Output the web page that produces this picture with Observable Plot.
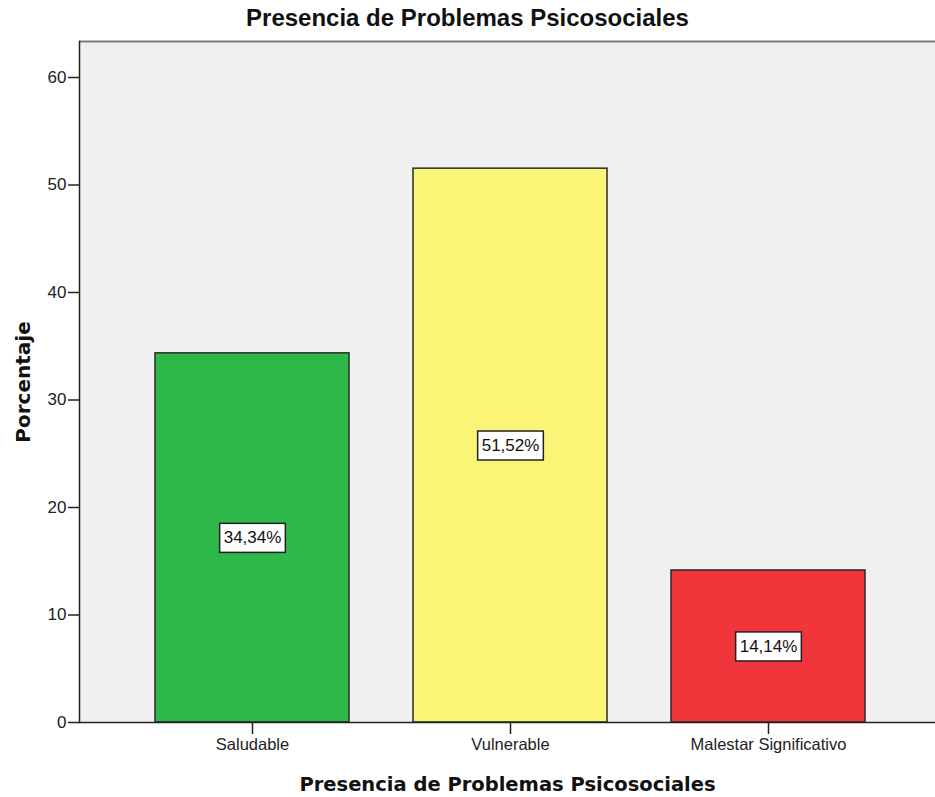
<!DOCTYPE html>
<html><head><meta charset="utf-8">
<script src="https://cdn.jsdelivr.net/npm/d3@7"></script>
<script src="https://cdn.jsdelivr.net/npm/@observablehq/plot@0.6"></script>
<style>
body{margin:0;background:#fff;}
#title{width:935px;height:40px;box-sizing:border-box;padding-top:4px;line-height:36px;text-align:center;font:bold 24px "Liberation Sans",Arial,sans-serif;color:#111;}
#chart svg{display:block;}
</style></head><body>
<div id="title"></div>
<div id="chart"></div>
<script>
const titleText = "Presencia de Problemas Psicosociales";
const xLabel = "Presencia de Problemas Psicosociales";
const yLabel = "Porcentaje";
const categories = ["Saludable", "Vulnerable", "Malestar Significativo"];
const values = [34.34, 51.52, 14.14];
const colors = ["#2fb84a", "#faf577", "#f0353b"];
const yTicks = [0, 10, 20, 30, 40, 50, 60];
const yMax = 63.35;

document.getElementById("title").textContent = titleText;

const data = categories.map((c, i) => ({
  category: c,
  value: values[i],
  label: values[i].toFixed(2).replace(".", ",") + "%"
}));

const chart = Plot.plot({
  width: 935, height: 757,
  marginTop: 1, marginBottom: 75, marginLeft: 79, marginRight: 0,
  style: {fontFamily: '"Liberation Sans", Arial, sans-serif', fontSize: "17px", color: "#222", background: "#fff"},
  x: {domain: categories, range: [79, 942], paddingInner: 0.248, paddingOuter: 0.295, label: null},
  y: {domain: [0, yMax], label: null},
  color: {domain: categories, range: colors},
  marks: [
    Plot.frame({fill: "#f0f0f0"}),
    Plot.ruleY([yMax], {stroke: "#7a7a7a", strokeWidth: 2}),
    Plot.barY(data, {x: "category", y: "value", fill: "category", stroke: "#2a2a2a", strokeWidth: 1.5}),
    Plot.ruleY([0], {stroke: "#222", strokeWidth: 1.5}),
    Plot.frame({anchor: "left", stroke: "#222", strokeWidth: 1.5}),
    Plot.axisY({ticks: yTicks, tickSize: 11, tickPadding: 2, stroke: "#222", strokeWidth: 1.5, fontSize: 17, label: null}),
    Plot.axisX({tickSize: 12, tickPadding: 4, stroke: "#222", strokeWidth: 1.5, fontSize: 16.5, label: null}),
    Plot.text(data, {x: "category", y: d => d.value / 2, text: "label", fontSize: 17, fill: "#111",
      fontFamily: '"Liberation Sans", Arial, sans-serif'}),
    Plot.text([xLabel], {frameAnchor: "bottom", dy: 68, lineAnchor: "bottom", fontSize: 19.5, fontWeight: "bold",
      fontFamily: '"DejaVu Sans", sans-serif', fill: "#111"}),
    Plot.text([yLabel], {frameAnchor: "left", textAnchor: "middle", dx: -56, rotate: -90, fontSize: 20, fontWeight: "bold",
      fontFamily: '"DejaVu Sans", sans-serif', fill: "#111"})
  ]
});

document.getElementById("chart").append(chart);

const labelSet = new Set(data.map(d => d.label));
chart.querySelectorAll("text").forEach(t => {
  if (!labelSet.has(t.textContent)) return;
  const b = t.getBBox();
  const r = document.createElementNS("http://www.w3.org/2000/svg", "rect");
  r.setAttribute("x", b.x - 4);
  r.setAttribute("y", b.y - 5);
  r.setAttribute("width", b.width + 8);
  r.setAttribute("height", b.height + 10);
  r.setAttribute("fill", "#fff");
  r.setAttribute("stroke", "#222");
  r.setAttribute("stroke-width", 1.5);
  const tr = t.getAttribute("transform");
  if (tr) r.setAttribute("transform", tr);
  t.parentNode.insertBefore(r, t);
});
</script>
</body></html>
